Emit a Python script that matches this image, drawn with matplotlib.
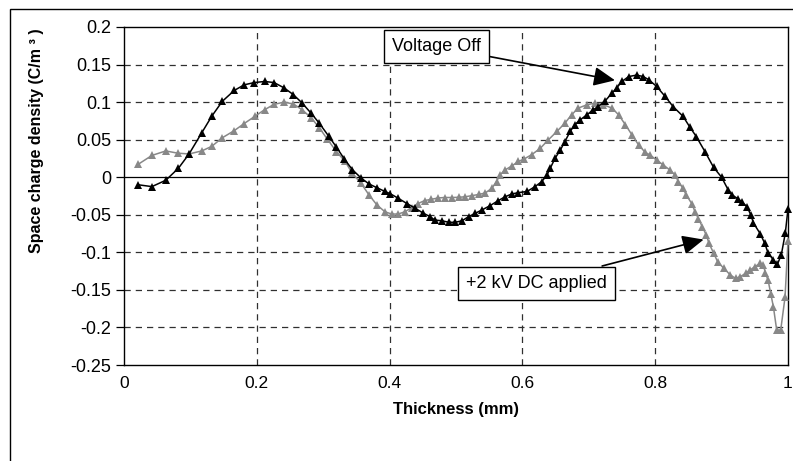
import matplotlib
matplotlib.use("Agg")
import matplotlib.pyplot as plt
from matplotlib.patches import Rectangle

plt.rcParams['font.family'] = ['Liberation Sans', 'DejaVu Sans']

# Space charge profile with no voltage applied
thick_off = [0.021, 0.042, 0.063, 0.082, 0.098, 0.117, 0.132, 0.148, 0.166, 0.181,
             0.196, 0.212, 0.226, 0.241, 0.255, 0.268, 0.282, 0.294, 0.308, 0.320,
             0.332, 0.344, 0.357, 0.369, 0.381, 0.393, 0.401, 0.413, 0.426, 0.438,
             0.451, 0.461, 0.468, 0.479, 0.489, 0.499, 0.509, 0.519, 0.529, 0.539,
             0.551, 0.564, 0.574, 0.584, 0.594, 0.607, 0.619, 0.629, 0.637, 0.642,
             0.649, 0.657, 0.664, 0.672, 0.679, 0.687, 0.697, 0.707, 0.714, 0.724,
             0.735, 0.742, 0.750, 0.760, 0.772, 0.782, 0.790, 0.802, 0.815, 0.827,
             0.842, 0.852, 0.862, 0.875, 0.888, 0.900, 0.910, 0.916, 0.925, 0.930,
             0.938, 0.944, 0.948, 0.958, 0.965, 0.970, 0.978, 0.984, 0.990, 0.996,
             1.000]
rho_off = [-0.010, -0.0125, -0.004, 0.012, 0.031, 0.059, 0.081, 0.101, 0.1155, 0.123,
           0.126, 0.1275, 0.126, 0.119, 0.110, 0.099, 0.085, 0.072, 0.055, 0.040,
           0.024, 0.010, -0.001, -0.009, -0.014, -0.019, -0.022, -0.028, -0.035, -0.041,
           -0.048, -0.0525, -0.057, -0.058, -0.060, -0.060, -0.058, -0.0525, -0.048, -0.0436,
           -0.038, -0.031, -0.026, -0.0223, -0.0205, -0.019, -0.0125, -0.006, 0.003, 0.012,
           0.025, 0.036, 0.0475, 0.061, 0.070, 0.0764, 0.083, 0.090, 0.094, 0.101,
           0.112, 0.119, 0.1275, 0.134, 0.136, 0.134, 0.130, 0.121, 0.1075, 0.094,
           0.081, 0.067, 0.054, 0.034, 0.013, 0.000, -0.017, -0.0236, -0.029, -0.0325,
           -0.039, -0.050, -0.061, -0.075, -0.088, -0.101, -0.110, -0.116, -0.103, -0.074,
           -0.042]

# Space charge profile under +2 kV DC
thick_dc = [0.021, 0.042, 0.063, 0.081, 0.098, 0.117, 0.132, 0.148, 0.166, 0.181,
            0.197, 0.212, 0.226, 0.241, 0.255, 0.268, 0.282, 0.294, 0.306, 0.320,
            0.333, 0.344, 0.357, 0.369, 0.381, 0.393, 0.403, 0.413, 0.423, 0.433,
            0.443, 0.453, 0.463, 0.473, 0.483, 0.494, 0.504, 0.514, 0.524, 0.534,
            0.544, 0.554, 0.561, 0.566, 0.574, 0.584, 0.594, 0.602, 0.614, 0.627,
            0.639, 0.652, 0.664, 0.674, 0.684, 0.697, 0.709, 0.722, 0.735, 0.745,
            0.755, 0.765, 0.775, 0.785, 0.792, 0.802, 0.812, 0.822, 0.830, 0.835,
            0.842, 0.847, 0.855, 0.860, 0.865, 0.871, 0.877, 0.881, 0.888, 0.894,
            0.903, 0.913, 0.921, 0.928, 0.936, 0.943, 0.950, 0.958, 0.963, 0.966,
            0.970, 0.974, 0.978, 0.983, 0.989, 0.9955, 1.000]
rho_dc = [0.017, 0.029, 0.035, 0.032, 0.031, 0.035, 0.041, 0.0525, 0.062, 0.0715,
          0.081, 0.090, 0.097, 0.100, 0.0975, 0.090, 0.079, 0.066, 0.051, 0.034,
          0.021, 0.005, -0.008, -0.0236, -0.037, -0.046, -0.049, -0.049, -0.046, -0.0405,
          -0.035, -0.031, -0.0294, -0.0276, -0.027, -0.027, -0.0267, -0.026, -0.0245, -0.023,
          -0.021, -0.0147, -0.006, 0.003, 0.0097, 0.015, 0.021, 0.024, 0.030, 0.0386,
          0.0497, 0.061, 0.072, 0.083, 0.092, 0.0964, 0.0987, 0.0964, 0.092, 0.083,
          0.070, 0.0564, 0.043, 0.033, 0.0297, 0.023, 0.0164, 0.0097, 0.003, -0.006,
          -0.015, -0.024, -0.035, -0.046, -0.055, -0.066, -0.077, -0.088, -0.101, -0.1125,
          -0.121, -0.130, -0.1347, -0.1325, -0.128, -0.1236, -0.119, -0.1147, -0.117, -0.128,
          -0.137, -0.155, -0.1725, -0.2036, -0.2036, -0.160, -0.085]

x_ticks = [0, 0.2, 0.4, 0.6, 0.8, 1.0]
x_tick_labels = ["0", "0.2", "0.4", "0.6", "0.8", "1"]
y_ticks = [-0.25, -0.2, -0.15, -0.1, -0.05, 0, 0.05, 0.1, 0.15, 0.2]
y_tick_labels = ["-0.25", "-0.2", "-0.15", "-0.1", "-0.05", "0", "0.05", "0.1", "0.15", "0.2"]

W, H = 793, 461
fig = plt.figure(figsize=(W / 100, H / 100), dpi=100)
ax = fig.add_axes([124 / W, 1 - 365 / H, (788 - 124) / W, (365 - 27) / H])

# outer chart frame
fig.patches.append(Rectangle((10 / W, -0.1), 1.2, 1 - 9 / H + 0.1,
                             transform=fig.transFigure, fill=False,
                             edgecolor='black', linewidth=1.0))

ax.set_xlim(0, 1)
ax.set_ylim(-0.25, 0.2)

grid_kw = dict(color='#303030', linewidth=0.9, linestyle=(0, (5, 4)), zorder=1)
for yv in y_ticks:
    if yv not in (0, -0.25, 0.2):
        ax.axhline(yv, **grid_kw)
for xv in x_ticks[1:-1]:
    ax.axvline(xv, **grid_kw)
ax.axhline(0, color='black', linewidth=0.9, zorder=2)

ax.plot(thick_dc, rho_dc, color='#888888', linewidth=1.1, marker='^',
        markersize=5.6, markeredgewidth=0, zorder=3, clip_on=False)
ax.plot(thick_off, rho_off, color='black', linewidth=1.1, marker='^',
        markersize=5.6, markeredgewidth=0, zorder=4, clip_on=False)

ax.set_xticks(x_ticks)
ax.set_xticklabels(x_tick_labels)
ax.set_yticks(y_ticks)
ax.set_yticklabels(y_tick_labels)
ax.tick_params(axis='x', length=0, pad=8, labelsize=12.5)
ax.tick_params(axis='y', length=6, width=0.9, direction='out', pad=3, labelsize=13)
for s in ax.spines.values():
    s.set_linewidth(1.0)
    s.set_color('black')

ax.set_xlabel("Thickness (mm)", fontsize=12, fontweight='bold', labelpad=8)
ax.set_ylabel("Space charge density (C/m \u00b3 )", fontsize=11.5, fontweight='bold')
ax.yaxis.set_label_coords(-0.12, 0.665)

box = dict(boxstyle='square,pad=0.45', facecolor='white', edgecolor='black', linewidth=1.0)
arrow = dict(arrowstyle='-|>,head_length=1.0,head_width=0.45', color='black',
             linewidth=1.2, shrinkA=0, shrinkB=0)
ax.annotate("Voltage Off", xy=(0.7395, 0.129), xytext=(0.471, 0.174),
            ha='center', va='center', fontsize=13, bbox=box, arrowprops=arrow, zorder=6)
ax.annotate("+2 kV DC applied", xy=(0.873, -0.083), xytext=(0.621, -0.141),
            ha='center', va='center', fontsize=13, bbox=box, arrowprops=arrow, zorder=6)

fig.savefig("out.png", dpi=100)
